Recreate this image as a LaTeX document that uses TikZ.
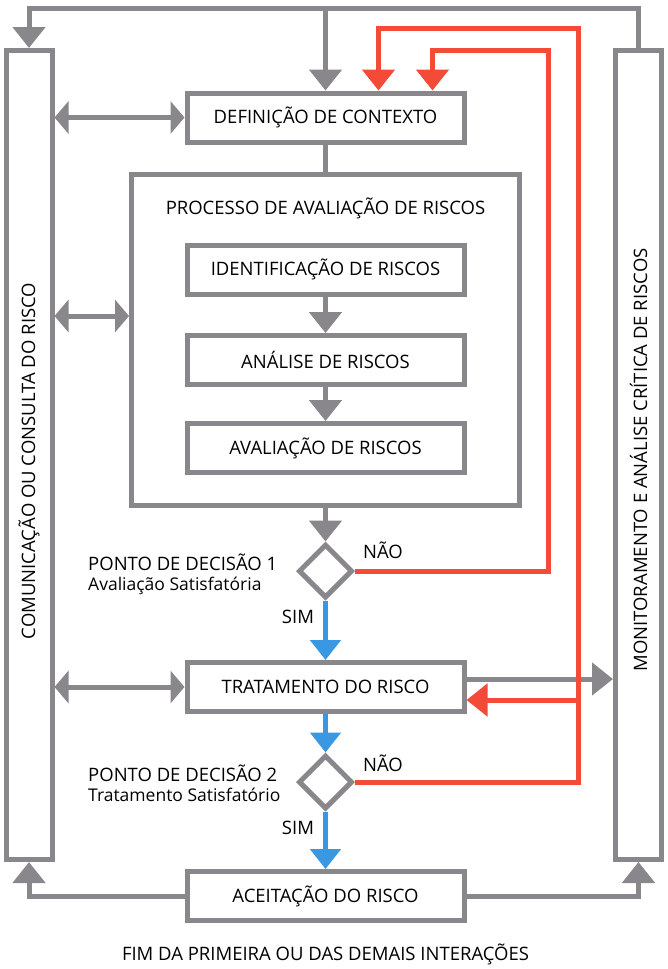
\documentclass[tikz,border=0pt]{standalone}
\usepackage{fontspec}
\setmainfont{Open Sans}
\usetikzlibrary{arrows.meta,shapes.geometric,positioning}
\definecolor{cinza}{HTML}{89878B}
\definecolor{verm}{HTML}{F44A38}
\definecolor{azul}{HTML}{3A97E2}

\begin{document}
\begin{tikzpicture}[x=1pt,y=-1pt,
  caixa/.style={draw=cinza,line width=5pt,fill=white,minimum width=277pt,
    minimum height=49pt,inner sep=0pt,font=\fontsize{18.5}{22}\selectfont},
  barra/.style={draw=cinza,line width=5pt,minimum width=46pt,minimum height=809pt,
    inner sep=0pt},
  decisao/.style={diamond,draw=cinza,line width=5pt,fill=white,minimum width=54pt,
    minimum height=54pt,inner sep=0pt},
  rotulo/.style={inner sep=0pt,font=\fontsize{18.5}{22}\selectfont},
  sub/.style={inner sep=0pt,font=\fontsize{17.5}{21}\selectfont},
  cinzalinha/.style={draw=cinza,line width=5pt},
  cinzaseta/.style={cinzalinha,-{Triangle[width=32pt,length=21pt]}},
  duplaseta/.style={cinzalinha,{Triangle[width=32pt,length=14pt]}-{Triangle[width=32pt,length=14pt]}},
  vermseta/.style={draw=verm,line width=5pt,-{Triangle[width=32pt,length=21pt]}},
  azulseta/.style={draw=azul,line width=5pt,-{Triangle[width=30pt,length=20pt]}}]
\useasboundingbox (0,0) rectangle (668,969);

% barras laterais
\node[barra] (com) at (29,455) {};
\node[barra] (mon) at (638.5,455) {};
\node[rotulo,rotate=90] (comtxt) at (29,461) {COMUNICAÇÃO OU CONSULTA DO RISCO};
\node[rotulo,rotate=90] (montxt) at (638.5,460) {MONITORAMENTO E ANÁLISE CRÍTICA DE RISCOS};

% caixas
\node[caixa] (def) at (325.5,117.5) {DEFINIÇÃO DE CONTEXTO};
\node[draw=cinza,line width=5pt,minimum width=388pt,minimum height=331pt,inner sep=0pt]
  (proc) at (325.5,340) {};
\node[rotulo] (proctit) at (325.5,208) {PROCESSO DE AVALIAÇÃO DE RISCOS};
\node[caixa] (ident) at (325.5,269.5) {IDENTIFICAÇÃO DE RISCOS};
\node[caixa] (anal) at (325.5,360) {ANÁLISE DE RISCOS};
\node[caixa] (aval) at (325.5,448) {AVALIAÇÃO DE RISCOS};
\node[decisao] (d1) at (325.5,571) {};
\node[caixa] (trat) at (325.5,687) {TRATAMENTO DO RISCO};
\node[decisao] (d2) at (325.5,782) {};
\node[caixa] (acc) at (325.5,896) {ACEITAÇÃO DO RISCO};

% textos
\node[rotulo,anchor=west] (p1) at (88,562) {PONTO DE DECISÃO 1};
\node[sub,anchor=west] (s1) at (88,586) {Avaliação Satisfatória};
\node[rotulo,anchor=west] (p2) at (88,773) {PONTO DE DECISÃO 2};
\node[sub,anchor=west] (s2) at (88,795) {Tratamento Satisfatório};
\node[rotulo] (nao1) at (383,550) {NÃO};
\node[rotulo] (sim1) at (298,617) {SIM};
\node[rotulo] (nao2) at (383,763) {NÃO};
\node[rotulo] (sim2) at (298,828) {SIM};
\node[rotulo] (fim) at (325.5,954) {FIM DA PRIMEIRA OU DAS DEMAIS INTERAÇÕES};

% pontos de apoio
\coordinate (topo) at (325.5,8);
\coordinate (r1) at (548,50);
\coordinate (r2) at (578,28);
\coordinate (r3) at (578,700);

% ligacoes cinza
\draw[cinzaseta] (mon.north) |- (topo) -| (com.north);
\draw[cinzaseta] (topo) -- (def.north);
\draw[cinzalinha] (def.south) -- (proc.north);
\draw[cinzaseta] (ident.south) -- (anal.north);
\draw[cinzaseta] (anal.south) -- (aval.north);
\draw[cinzaseta] (proc.south) -- (d1.north);
\draw[cinzaseta] ([yshift=8pt]trat.east) -- ([yshift=8pt]mon.west |- trat.east);
\draw[cinzaseta] (acc.west) -| (com.south);
\draw[cinzaseta] (acc.east) -| (mon.south);
\draw[duplaseta] (com.east |- def.west) -- (def.west);
\draw[duplaseta] ([yshift=24pt]com.east |- proc.west) -- ([yshift=24pt]proc.west);
\draw[duplaseta] (com.east |- trat.west) -- (trat.west);

% ligacoes vermelhas
\draw[vermseta] (d1.east) -| (r1) -| ([xshift=107pt]def.north);
\draw[vermseta] (d2.east) -| (r2) -| ([xshift=53pt]def.north);
\draw[vermseta] (r3) -- (trat.east |- r3);

% ligacoes azuis
\draw[azulseta] (d1.south) -- (trat.north);
\draw[azulseta] (trat.south) -- (d2.north);
\draw[azulseta] (d2.south) -- (acc.north);
\end{tikzpicture}
\end{document}
